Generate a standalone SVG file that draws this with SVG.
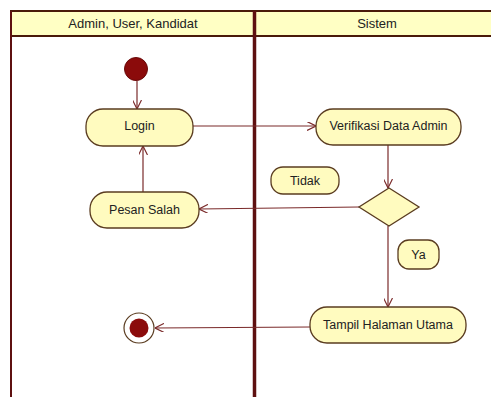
<svg xmlns="http://www.w3.org/2000/svg" width="491" height="397" viewBox="0 0 491 397">
  <defs>
    <style>
      .lane-line { stroke: #5e1010; fill: none; }
      .header { fill: #ffffc4; stroke: #4a1a0a; stroke-width: 2; }
      .lane-title { font-family: "Liberation Sans", Arial, sans-serif; font-size: 13px; fill: #222; text-anchor: middle; }
      .action { fill: #fffbbf; stroke: #5a3c20; stroke-width: 1.3; }
      .label { font-family: "Liberation Sans", Arial, sans-serif; font-size: 12.5px; fill: #222; text-anchor: middle; dominant-baseline: central; }
      .flow { stroke: #7a2a2a; stroke-width: 1.2; fill: none; marker-end: url(#open-arrow); }
    </style>
    <marker id="open-arrow" viewBox="0 0 10 10" refX="10" refY="5" markerWidth="9" markerHeight="9" markerUnits="userSpaceOnUse" orient="auto">
      <path d="M0,0 L10,5 L0,10" fill="none" stroke="#7a2a2a" stroke-width="1.3"/>
    </marker>
  </defs>

  <rect width="491" height="397" fill="#ffffff"/>

  <!-- swimlanes -->
  <g id="swimlanes">
    <rect class="header" x="11" y="11" width="485" height="25"/>
    <line class="lane-line" x1="11" y1="11" x2="11" y2="397" stroke-width="2"/>
    <line class="lane-line" x1="254.5" y1="11" x2="254.5" y2="397" stroke-width="3.5" stroke="#6a0808"/>
    <text class="lane-title" x="133" y="28">Admin, User, Kandidat</text>
    <text class="lane-title" x="377" y="28">Sistem</text>
  </g>

  <!-- connectors -->
  <g id="connectors">
    <line class="flow" x1="137" y1="81" x2="137" y2="109"/>
    <line class="flow" x1="193" y1="126" x2="316" y2="126"/>
    <line class="flow" x1="388" y1="145" x2="388" y2="188"/>
    <line class="flow" x1="359" y1="207" x2="199" y2="209"/>
    <line class="flow" x1="143" y1="192" x2="143" y2="146"/>
    <line class="flow" x1="388" y1="226" x2="388" y2="307"/>
    <line class="flow" x1="310" y1="327" x2="155" y2="328"/>
  </g>

  <g id="start">
    <circle cx="136" cy="69" r="11.5" fill="#8b0b0b" stroke="#6a0a0a" stroke-width="1"/>
  </g>

  <g id="login">
    <rect class="action" x="86" y="109" width="107" height="37" rx="17" ry="17"/>
    <text class="label" x="139.5" y="126">Login</text>
  </g>

  <g id="verifikasi">
    <rect class="action" x="316" y="109" width="145" height="36" rx="17" ry="17"/>
    <text class="label" x="388.5" y="126">Verifikasi Data Admin</text>
  </g>

  <g id="decision">
    <polygon class="action" points="389,188 419,207 389,226 359,207"/>
  </g>

  <g id="tidak">
    <rect class="action" x="271" y="167" width="68" height="27" rx="12" ry="12"/>
    <text class="label" x="305" y="180.5">Tidak</text>
  </g>

  <g id="pesan-salah">
    <rect class="action" x="90" y="192" width="109" height="36" rx="17" ry="17"/>
    <text class="label" x="144.5" y="210">Pesan Salah</text>
  </g>

  <g id="ya">
    <rect class="action" x="398" y="240" width="41" height="29" rx="11" ry="11"/>
    <text class="label" x="418.5" y="254.5">Ya</text>
  </g>

  <g id="tampil">
    <rect class="action" x="310" y="307" width="156" height="36" rx="17" ry="17"/>
    <text class="label" x="388" y="325">Tampil Halaman Utama</text>
  </g>

  <g id="end">
    <circle cx="139" cy="328" r="15" fill="#ffffff" stroke="#5a3c20" stroke-width="1.2"/>
    <circle cx="139" cy="328" r="9.5" fill="#8b0b0b"/>
  </g>
</svg>
